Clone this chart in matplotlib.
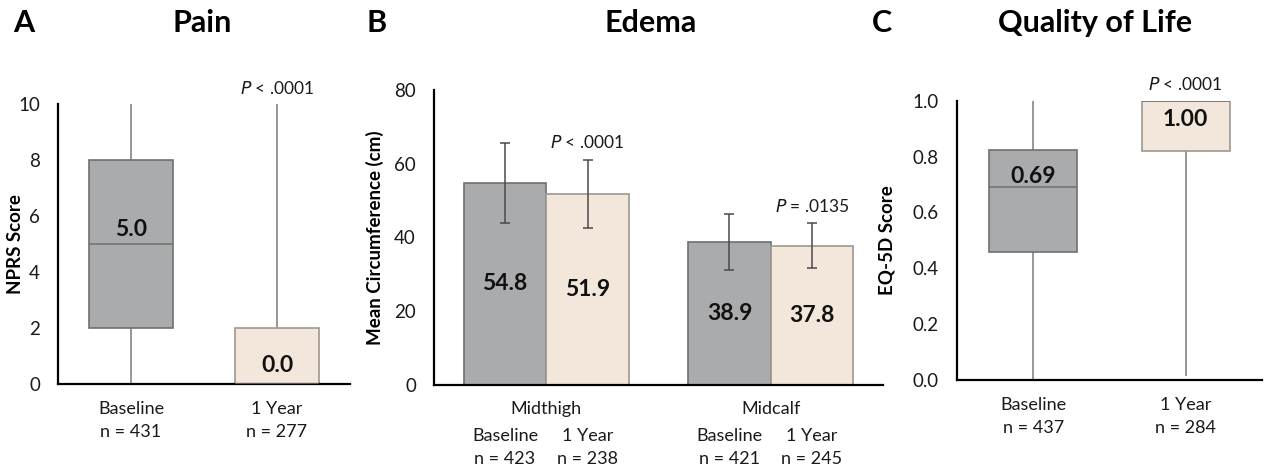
import numpy as np
import matplotlib.pyplot as plt

plt.rcParams['font.family'] = ['Lato', 'DejaVu Sans']

# Panel A: pain (NPRS), box summaries
pain_groups = ["Baseline", "1 Year"]
pain_n = [431, 277]
pain_min = [0, 2]
pain_q1 = [2, 0]
pain_med = [5.0, 0.0]
pain_q3 = [8, 2]
pain_max = [10, 10]

# Panel B: edema, mean circumference with SD
edema_sites = ["Midthigh", "Midcalf"]
edema_groups = ["Baseline", "1 Year"]
edema_n = [[423, 238], [421, 245]]
edema_mean = [[54.8, 51.9], [38.9, 37.8]]
edema_sd = [[10.8, 9.2], [7.6, 6.0]]
edema_p = ["$P$ < .0001", "$P$ = .0135"]

# Panel C: quality of life (EQ-5D), box summaries
qol_groups = ["Baseline", "1 Year"]
qol_n = [437, 284]
qol_min = [0.0, 0.015]
qol_q1 = [0.457, 0.82]
qol_med = [0.69, 1.00]
qol_q3 = [0.822, 1.0]
qol_max = [1.0, 1.0]

GRAY = "#aaabad"
GRAY_EDGE = "#6f6f6f"
BEIGE = "#f3e6da"
BEIGE_EDGE = "#9c9791"
TXT = "#1a1a1a"
fills = [GRAY, BEIGE]
edges = [GRAY_EDGE, BEIGE_EDGE]

fig = plt.figure(figsize=(12.64, 4.68), dpi=100)


def style_axes(ax):
    for s in ["top", "right"]:
        ax.spines[s].set_visible(False)
    for s in ["left", "bottom"]:
        ax.spines[s].set_linewidth(1.6)
        ax.spines[s].set_color("black")
    ax.tick_params(axis="y", length=0, labelsize=13.5, pad=13, colors=TXT)
    ax.tick_params(axis="x", length=0)
    ax.set_xticks([])


def under_label(ax, x, text, dy):
    ax.annotate(text, xy=(x, 0), xycoords=ax.get_xaxis_transform(),
                xytext=(0, -dy), textcoords="offset pixels",
                ha="center", va="center", fontsize=13, color=TXT)


def box_panel(ax, groups, n, lo, q1, med, q3, hi, fmt, label_off, p_text):
    width = 0.575
    for i in range(len(groups)):
        x = 0.5 + i
        bottom = min(q1[i], q3[i])
        top = max(q1[i], q3[i])
        ax.vlines(x, lo[i], bottom, color="#7a7a7a", lw=1.1, zorder=1)
        ax.vlines(x, top, hi[i], color="#7a7a7a", lw=1.1, zorder=1)
        ax.bar(x, top - bottom, bottom=bottom, width=width, color=fills[i],
               edgecolor=edges[i], linewidth=1.2, zorder=2)
        ax.hlines(med[i], x - width / 2, x + width / 2, color=GRAY_EDGE,
                  lw=1.1, zorder=3)
        ax.annotate(fmt.format(med[i]), xy=(x, med[i]), xytext=(0, label_off[i]),
                    textcoords="offset pixels", ha="center", va="center",
                    fontsize=16.5, fontweight="bold", color="#111111", zorder=4)
        under_label(ax, x, groups[i], 25)
        under_label(ax, x, "n = %d" % n[i], 48)
    ax.annotate(p_text, xy=(1.5, max(hi)), xytext=(0, 16),
                textcoords="offset pixels", ha="center", va="center",
                fontsize=12.5, color=TXT)
    ax.set_xlim(0, 2)


# ---- A
axA = fig.add_axes([58 / 1264, 1 - 384 / 468, 292 / 1264, 280 / 468])
style_axes(axA)
box_panel(axA, pain_groups, pain_n, pain_min, pain_q1, pain_med, pain_q3,
          pain_max, "{:.1f}", [14, 18], "$P$ < .0001")
axA.set_ylim(0, 10)
axA.set_yticks([0, 2, 4, 6, 8, 10])
axA.set_ylabel("NPRS Score", fontsize=13.5, fontweight="bold")
axA.yaxis.set_label_coords(-0.116, 0.5)

# ---- B
axB = fig.add_axes([434 / 1264, 1 - 385 / 468, 449 / 1264, 295 / 468])
style_axes(axB)
bw = 0.735
for s in range(len(edema_sites)):
    c = 1 + 2 * s
    for g in range(len(edema_groups)):
        x = c + (g - 0.5) * bw
        axB.bar(x, edema_mean[s][g], width=bw, color=fills[g],
                edgecolor=edges[g], linewidth=1.2, zorder=2)
        axB.errorbar(x, edema_mean[s][g], yerr=edema_sd[s][g], fmt="none",
                     ecolor="#4a4a4a", elinewidth=1.1, capsize=3.5,
                     capthick=1.1, zorder=3)
        axB.text(x, edema_mean[s][g] / 2, "%.1f" % edema_mean[s][g],
                 ha="center", va="center", fontsize=16.5, fontweight="bold",
                 color="#111111", zorder=4)
        under_label(axB, x, edema_groups[g], 51)
        under_label(axB, x, "n = %d" % edema_n[s][g], 74)
    under_label(axB, c, edema_sites[s], 24)
    xp = c + 0.5 * bw
    top = edema_mean[s][1] + edema_sd[s][1]
    axB.annotate(edema_p[s], xy=(xp, top), xytext=(0, 17),
                 textcoords="offset pixels", ha="center", va="center",
                 fontsize=12.5, color=TXT)
axB.set_xlim(0, 4)
axB.set_ylim(0, 80)
axB.set_yticks([0, 20, 40, 60, 80])
axB.set_ylabel("Mean Circumference (cm)", fontsize=13.5, fontweight="bold")
axB.yaxis.set_label_coords(-0.111, 0.5)

# ---- C
axC = fig.add_axes([957 / 1264, 1 - 380 / 468, 305 / 1264, 279.3 / 468])
style_axes(axC)
box_panel(axC, qol_groups, qol_n, qol_min, qol_q1, qol_med, qol_q3,
          qol_max, "{:.2f}", [11, -19], "$P$ < .0001")
axC.set_ylim(0, 1.0)
axC.set_yticks([0, 0.2, 0.4, 0.6, 0.8, 1.0])
axC.set_yticklabels(["0.0", "0.2", "0.4", "0.6", "0.8", "1.0"])
axC.set_ylabel("EQ-5D Score", fontsize=13.5, fontweight="bold")
axC.yaxis.set_label_coords(-0.203, 0.5)

# titles and panel letters
for letter, lx, title, tx in [("A", 24, "Pain", 202), ("B", 377, "Edema", 651),
                              ("C", 882, "Quality of Life", 1095)]:
    fig.text(lx / 1264, 1 - 23 / 468, letter, ha="center", va="center",
             fontsize=22, fontweight="bold")
    fig.text(tx / 1264, 1 - 23 / 468, title, ha="center", va="center",
             fontsize=22, fontweight="bold")

fig.savefig("out.png", dpi=100)
